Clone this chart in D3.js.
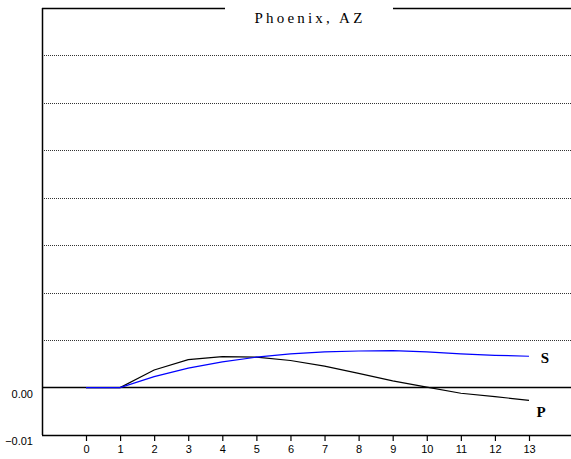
<!DOCTYPE html>
<html lang="en">
<head>
<meta charset="UTF-8">
<title>Phoenix, AZ</title>
<script src="https://d3js.org/d3.v7.min.js"></script>
<style>
  body { margin: 0; background: #fff; }
  svg { display: block; }
</style>
</head>
<body>
<div id="chart"></div>
<script>
// data
const periods = [0, 1, 2, 3, 4, 5, 6, 7, 8, 9, 10, 11, 12, 13];
const seriesP = [0, 0, 0.0037, 0.0059, 0.0065, 0.0064, 0.0057, 0.0045, 0.0030, 0.0014, 0.0001, -0.0012, -0.0019, -0.0027];
const seriesS = [0, 0, 0.0023, 0.0041, 0.0054, 0.0064, 0.0071, 0.0075, 0.0077, 0.0078, 0.0075, 0.0071, 0.0068, 0.0066];
const gridValues = [0.01, 0.02, 0.03, 0.04, 0.05, 0.06, 0.07];
const yTickLabels = [0, -0.01];
const title = "Phoenix, AZ";

const width = 571, height = 459;
const plotLeft = 42, plotRight = 571, plotTop = 8, plotBottom = 435;

const svg = d3.select("#chart").append("svg")
  .attr("width", width)
  .attr("height", height);

const x = d3.scaleLinear().domain([0, 13]).range([86, 529]);
const y = d3.scaleLinear().domain([-0.01, 0.08]).range([plotBottom, plotTop]);

// dotted grid
svg.selectAll(".grid").data(gridValues).enter().append("line")
  .attr("class", "grid")
  .attr("x1", plotLeft).attr("x2", plotRight)
  .attr("y1", d => Math.round(y(d)) + 0.5).attr("y2", d => Math.round(y(d)) + 0.5)
  .attr("stroke", "#333").attr("stroke-width", 1)
  .attr("stroke-dasharray", "1,1");

// zero line
svg.append("line")
  .attr("x1", plotLeft).attr("x2", plotRight)
  .attr("y1", y(0)).attr("y2", y(0))
  .attr("stroke", "#000").attr("stroke-width", 1.6);

// frame: left + top
svg.append("line")
  .attr("x1", plotLeft + 0.5).attr("x2", plotLeft + 0.5)
  .attr("y1", plotTop).attr("y2", plotBottom)
  .attr("stroke", "#000").attr("stroke-width", 1.5);
svg.append("line")
  .attr("x1", plotLeft).attr("x2", plotRight)
  .attr("y1", plotTop + 0.5).attr("y2", plotTop + 0.5)
  .attr("stroke", "#000").attr("stroke-width", 1.5);

// bottom axis
const xAxis = svg.append("g")
  .attr("transform", `translate(0,${plotBottom})`)
  .call(d3.axisBottom(x).tickValues(periods).tickSize(6).tickSizeOuter(0).tickFormat(d3.format("d")));
xAxis.select(".domain").remove();
xAxis.selectAll(".tick line").attr("stroke", "#000").attr("stroke-width", 1.2);
xAxis.selectAll(".tick text")
  .attr("y", 10)
  .style("font-family", "'Liberation Sans', Arial, sans-serif")
  .style("font-size", "11px")
  .attr("fill", "#000");
svg.append("line")
  .attr("x1", plotLeft).attr("x2", plotRight)
  .attr("y1", plotBottom + 0.5).attr("y2", plotBottom + 0.5)
  .attr("stroke", "#000").attr("stroke-width", 1.5);

// y labels (sit a bit below their line)
svg.selectAll(".ylab").data(yTickLabels).enter().append("text")
  .attr("class", "ylab")
  .attr("x", 33)
  .attr("y", d => y(d) + 6.5)
  .attr("dy", "0.35em")
  .attr("text-anchor", "end")
  .style("font-family", "'Liberation Sans', Arial, sans-serif")
  .style("font-size", "11px")
  .text(d => d3.format(".2f")(d));

// series
const line = d3.line().x((d, i) => x(periods[i])).y(d => y(d));
svg.append("path").datum(seriesP)
  .attr("fill", "none").attr("stroke", "#000").attr("stroke-width", 1.2)
  .attr("d", line);
svg.append("path").datum(seriesS)
  .attr("fill", "none").attr("stroke", "#0000ff").attr("stroke-width", 1.2)
  .attr("d", line);

// series labels
const serif = "'Liberation Serif', 'Times New Roman', serif";
svg.append("text")
  .attr("x", x(13) + 16).attr("y", y(seriesS[13]) + 2)
  .attr("dy", "0.35em")
  .attr("text-anchor", "middle")
  .style("font-family", serif).style("font-size", "15px").style("font-weight", "bold")
  .text("S");
svg.append("text")
  .attr("x", x(13) + 12).attr("y", y(seriesP[13]) + 11)
  .attr("dy", "0.35em")
  .attr("text-anchor", "middle")
  .style("font-family", serif).style("font-size", "15px").style("font-weight", "bold")
  .text("P");

// title box breaking the top border
svg.append("rect")
  .attr("x", 225).attr("y", 0).attr("width", 168).attr("height", 24)
  .attr("fill", "#fff");
svg.append("text")
  .attr("x", 310).attr("y", 23)
  .attr("text-anchor", "middle")
  .style("font-family", serif)
  .style("font-size", "15px")
  .style("letter-spacing", "3.2px")
  .text(title);
</script>
</body>
</html>
